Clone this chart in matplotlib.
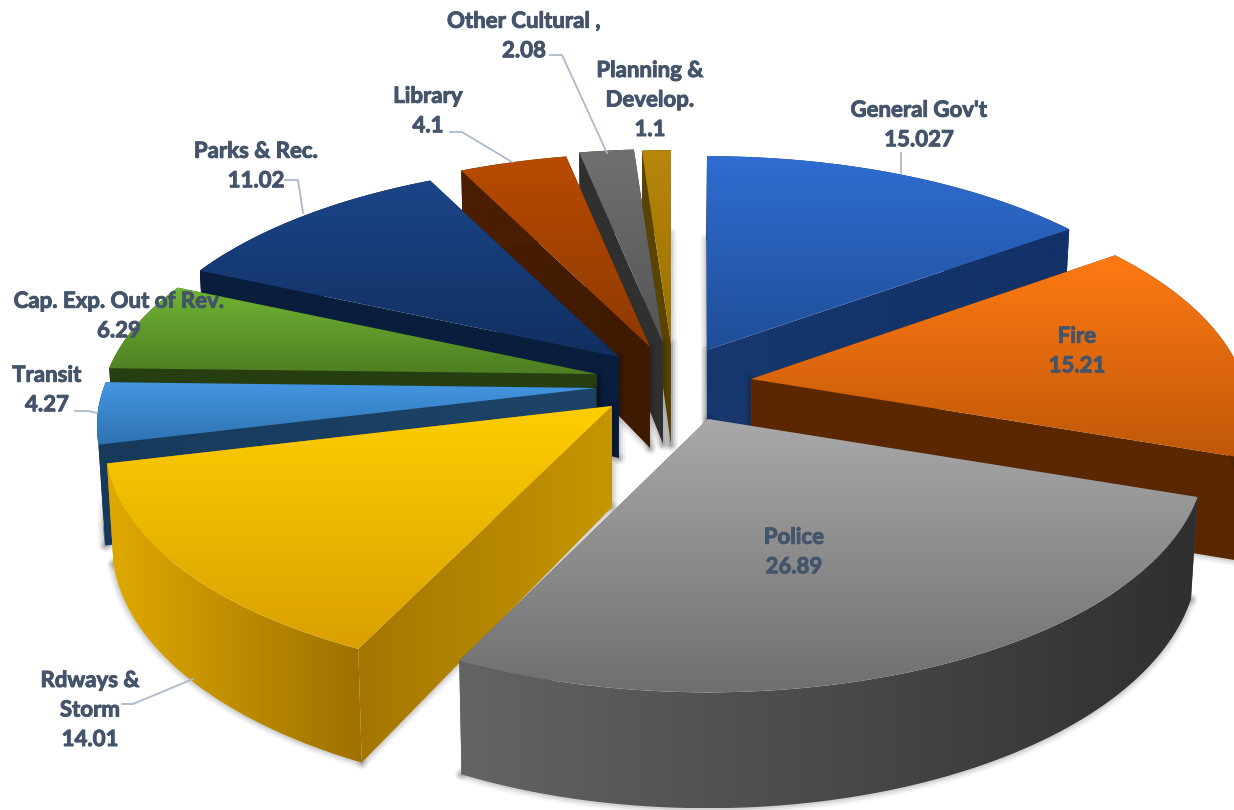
import numpy as np
import matplotlib
matplotlib.use("Agg")
import matplotlib.pyplot as plt
import matplotlib.patheffects as pe
from matplotlib.patches import Polygon
from matplotlib.colors import LinearSegmentedColormap

# ---- data ----
categories = ["General Gov't", "Fire", "Police", "Rdways &\nStorm", "Transit",
              "Cap. Exp. Out of Rev.", "Parks & Rec.", "Library",
              "Other Cultural ,", "Planning &\nDevelop."]
values = [15.027, 15.21, 26.89, 14.01, 4.27, 6.29, 11.02, 4.1, 2.08, 1.1]

# ---- layout / style (pixel space of the figure) ----
W, H = 1234, 810
apex_x = [707, 751, 708, 612, 596, 597, 619, 650, 663, 671]
apex_y = [350, 379, 419, 406, 388, 374, 357, 347, 343, 344]
radius_scale = [1.0, 1.005, 1.0, 1.02, 1.005, 1.0, 1.0, 1.0, 1.0, 1.0]
tilt_scale = [1.0, 1.02, 1.015, 1.0, 1.0, 1.0, 1.0, 1.0, 1.0, 1.0]
R, TILT, PERSP, DEPTH, APEX_DEPTH, CONVERGE, CONV_X = 490.0, 0.46, 0.163, 97.0, 101.0, 0.988, 650.0
paint_order = [9, 8, 7, 0, 6, 5, 1, 4, 3, 2]

top_colors = [("#2F6DD2", "#1F4E98"), ("#FF7A14", "#C05808"), ("#A9A9A9", "#6F6F6F"),
              ("#FFCE00", "#D9A000"), ("#4496E2", "#2F72B0"), ("#70B534", "#4E7E22"),
              ("#1B4589", "#112F60"), ("#B84A00", "#8E3A00"), ("#707070", "#555555"),
              ("#B8860B", "#987000")]
wall_colors = [("#123268", "#123268"), ("#5A2700", "#4E2200"), ("#646464", "#2F2F2F"),
               ("#E0AA00", "#9E7000"), ("#173A5C", "#173A5C"), ("#263E10", "#263E10"),
               ("#0A1D3D", "#0A1D3D"), ("#4A1E00", "#4A1E00"), ("#303030", "#303030"),
               ("#5A4400", "#5A4400")]
cut_colors = [("#123268", "#16386F"), ("#5A2700", "#5A2700"), ("#555555", "#555555"),
              ("#A47600", "#C69600"), ("#173A5C", "#1D4468"), ("#263E10", "#263E10"),
              ("#0A1D3D", "#0A1D3D"), ("#4A1E00", "#3E1A00"), ("#303030", "#303030"),
              ("#5A4400", "#5A4400")]

label_xy = [(919, 125), (1077, 351), (794, 552), (90, 710), (47, 390),
            (119, 316), (256, 166), (428, 111), (524, 36), (650, 100)]
leaders = [[(901, 153), (901, 173)], None, None,
           [(122, 704), (133, 704), (193, 679)],
           [(75, 411), (88, 411), (97, 413)],
           None,
           [(285, 180), (298, 180), (303, 213)],
           [(450, 132), (462, 132), (512, 162)],
           [(550, 55), (562, 55), (607, 153)],
           None]
TEXT = "#44546A"
LEAD = "#ADB9CA"

fig = plt.figure(figsize=(W / 100, H / 100), dpi=100)
ax = fig.add_axes([0, 0, 1, 1])
ax.set_axis_off()


def grad_fill(pts, c0, c1, vertical, z):
    pts = np.asarray(pts)
    x0, y0 = pts.min(axis=0)
    x1, y1 = pts.max(axis=0)
    cmap = LinearSegmentedColormap.from_list("g", [c0, c1])
    ramp = np.linspace(0, 1, 256)
    img = ramp[:, None] if vertical else ramp[None, :]
    im = ax.imshow(img, cmap=cmap, vmin=0, vmax=1, extent=(x0, x1, y1, y0),
                   aspect="auto", origin="upper", zorder=z, interpolation="bilinear")
    im.set_clip_path(Polygon(pts, closed=True, transform=ax.transData))


def shadow(xs, ys, z):
    for lw, a in ((9, 0.04), (6, 0.06), (3, 0.08)):
        ax.plot(xs, ys, color="black", lw=lw, alpha=a, zorder=z, solid_capstyle="round")


edges = np.concatenate([[0], np.cumsum(values)]) / np.sum(values) * 2 * np.pi
z = 1
for i in paint_order:
    th = np.linspace(edges[i], edges[i + 1], 80)
    f = 1 / (1 + PERSP * np.cos(th))
    r = R * radius_scale[i]
    x = apex_x[i] + r * np.sin(th) * f
    y = apex_y[i] - r * TILT * tilt_scale[i] * np.cos(th) * f
    yb = y + DEPTH * f
    xb = CONV_X + (x - CONV_X) * CONVERGE
    ax_, ay_ = apex_x[i], apex_y[i]
    ab = ay_ + APEX_DEPTH
    left = [(ax_, ay_), (x[-1], y[-1]), (xb[-1], yb[-1]), (ax_, ab)]
    right = [(ax_, ay_), (x[0], y[0]), (xb[0], yb[0]), (ax_, ab)]
    rim = np.column_stack([np.r_[x, xb[::-1]], np.r_[y, yb[::-1]]])
    top = np.vstack([[(ax_, ay_)], np.column_stack([x, y])])
    # soft shadow only along the lower edges of the walls
    shadow([ax_, ax_], [ay_, ab], z)
    shadow([xb[0], ax_, xb[-1]], [yb[0], ab, yb[-1]], z)
    front = np.cos(th) < 0
    if front.any():
        shadow(xb[front], yb[front], z)
    z += 1
    grad_fill(left, cut_colors[i][1], cut_colors[i][0], False, z); z += 1
    grad_fill(right, cut_colors[i][0], cut_colors[i][1], False, z); z += 1
    grad_fill(rim, wall_colors[i][0], wall_colors[i][1], False, z); z += 1
    grad_fill(top, top_colors[i][0], top_colors[i][1], True, z); z += 1

for i, (name, v) in enumerate(zip(categories, values)):
    ax.text(label_xy[i][0], label_xy[i][1], f"{name}\n{v}", ha="center", va="center",
            family=["Lato", "DejaVu Sans"], weight="bold", fontsize=16, color=TEXT,
            linespacing=1.5, zorder=500,
            path_effects=[pe.withStroke(linewidth=0.7, foreground=TEXT)])
    if leaders[i]:
        xs, ys = zip(*leaders[i])
        ax.plot(xs, ys, color=LEAD, lw=1.3, zorder=499)

ax.set_xlim(0, W)
ax.set_ylim(H, 0)
fig.savefig("out.png", dpi=100, facecolor="white")
